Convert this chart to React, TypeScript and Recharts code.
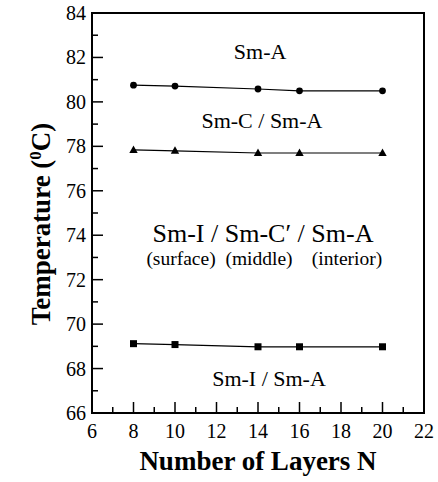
import React from 'react';
import { LineChart, Line, XAxis, YAxis, ReferenceArea, ReferenceDot, Label } from 'recharts';

const layers = [8, 10, 14, 16, 20];
const smAUpper = [80.75, 80.71, 80.58, 80.5, 80.5];
const smCUpper = [77.84, 77.8, 77.7, 77.7, 77.7];
const smIUpper = [69.12, 69.08, 68.98, 68.98, 68.98];

const xTicks = [6, 7, 8, 9, 10, 11, 12, 13, 14, 15, 16, 17, 18, 19, 20, 21, 22];
const yTicks = [66, 67, 68, 69, 70, 71, 72, 73, 74, 75, 76, 77, 78, 79, 80, 81, 82, 83, 84];

const phaseLabels = ['Sm-A', 'Sm-C / Sm-A', 'Sm-I / Sm-C\u2032 / Sm-A', '(surface)', '(middle)', '(interior)', 'Sm-I / Sm-A'];
const phaseLabelX = [14.1, 14.19, 14.24, 10.29, 14.05, 18.29, 14.53];
const phaseLabelY = [82.29, 79.18, 74.1, 72.97, 72.97, 72.97, 67.57];
const phaseLabelSize = [22, 22, 26, 19.5, 19.5, 19.5, 22];

const data = layers.map((n, i) => ({ n, a: smAUpper[i], c: smCUpper[i], s: smIUpper[i] }));

const FONT = "'Liberation Serif', 'Times New Roman', serif";

const XTick = (props: any) => {
  const { x, y, payload } = props;
  const v = payload.value;
  const major = v % 2 === 0;
  return (
    <g>
      {v !== 6 && v !== 22 && (
        <line x1={x} y1={y} x2={x} y2={y - (major ? 11 : 6)} stroke="#000" strokeWidth={1.5} />
      )}
      {major && (
        <text x={x} y={y + 25} textAnchor="middle" fontSize={20} fontFamily={FONT} fill="#000">
          {v}
        </text>
      )}
    </g>
  );
};

const YTick = (props: any) => {
  const { x, y, payload } = props;
  const v = payload.value;
  const major = v % 2 === 0;
  return (
    <g>
      {v !== 66 && v !== 84 && (
        <line x1={x} y1={y} x2={x + (major ? 11 : 6)} y2={y} stroke="#000" strokeWidth={1.5} />
      )}
      {major && (
        <text x={x - 6} y={y + 7} textAnchor="end" fontSize={20} fontFamily={FONT} fill="#000">
          {v}
        </text>
      )}
    </g>
  );
};

const XTitle = (props: any) => {
  const vb = props.viewBox || { x: 92, y: 413, width: 332, height: 69 };
  return (
    <text
      x={vb.x + vb.width / 2}
      y={vb.y + 57}
      textAnchor="middle"
      fontSize={27}
      fontWeight="bold"
      fontFamily={FONT}
      fill="#000"
    >
      Number of Layers N
    </text>
  );
};

const YTitle = (props: any) => {
  const vb = props.viewBox || { x: 0, y: 13, width: 92, height: 400 };
  const cx = vb.x + 50;
  const cy = vb.y + vb.height / 2 + 11;
  return (
    <text
      x={cx}
      y={cy}
      transform={`rotate(-90, ${cx}, ${cy})`}
      textAnchor="middle"
      fontSize={27}
      fontWeight="bold"
      fontFamily={FONT}
      fill="#000"
    >
      Temperature (
      <tspan dy={-9} fontSize={17}>0</tspan>
      <tspan dy={9}>C)</tspan>
    </text>
  );
};

const CircleDot = (props: any) => {
  const { cx, cy } = props;
  if (cx == null || cy == null) return null;
  return <circle cx={cx} cy={cy} r={3.4} fill="#000" stroke="none" />;
};

const TriangleDot = (props: any) => {
  const { cx, cy } = props;
  if (cx == null || cy == null) return null;
  return (
    <polygon
      points={`${cx},${cy - 4.5} ${cx - 4.2},${cy + 3} ${cx + 4.2},${cy + 3}`}
      fill="#000"
      stroke="none"
    />
  );
};

const SquareDot = (props: any) => {
  const { cx, cy } = props;
  if (cx == null || cy == null) return null;
  return <rect x={cx - 3.5} y={cy - 3.5} width={7} height={7} fill="#000" stroke="none" />;
};

export default function App() {
  return (
    <div style={{ position: 'absolute', left: 0, top: 0, background: '#fff' }}>
      <LineChart
        width={438}
        height={482}
        data={data}
        margin={{ top: 13, right: 14, bottom: 0, left: 0 }}
      >
        <XAxis
          dataKey="n"
          type="number"
          domain={[6, 22]}
          ticks={xTicks}
          interval={0}
          tickSize={0}
          tickMargin={0}
          tick={<XTick />}
          tickLine={false}
          axisLine={{ stroke: '#000', strokeWidth: 2 }}
          height={69}
          allowDataOverflow
          label={<Label content={<XTitle />} />}
        />
        <YAxis
          type="number"
          domain={[66, 84]}
          ticks={yTicks}
          interval={0}
          tickSize={0}
          tickMargin={0}
          tick={<YTick />}
          tickLine={false}
          axisLine={{ stroke: '#000', strokeWidth: 2 }}
          width={92}
          allowDataOverflow
          label={<Label content={<YTitle />} />}
        />
        <ReferenceArea
          x1={6}
          x2={22}
          y1={66}
          y2={84}
          fill="none"
          fillOpacity={0}
          stroke="#000"
          strokeWidth={2}
          ifOverflow="visible"
        />
        <Line dataKey="a" stroke="#000" strokeWidth={1.2} dot={<CircleDot />} isAnimationActive={false} />
        <Line dataKey="c" stroke="#000" strokeWidth={1.2} dot={<TriangleDot />} isAnimationActive={false} />
        <Line dataKey="s" stroke="#000" strokeWidth={1.2} dot={<SquareDot />} isAnimationActive={false} />
        {phaseLabels.map((t, i) => (
          <ReferenceDot
            key={t}
            x={phaseLabelX[i]}
            y={phaseLabelY[i]}
            r={0}
            fill="none"
            stroke="none"
            label={{
              value: t,
              position: 'center',
              fontSize: phaseLabelSize[i],
              fontFamily: FONT,
              fill: '#000',
            }}
          />
        ))}
      </LineChart>
    </div>
  );
}
